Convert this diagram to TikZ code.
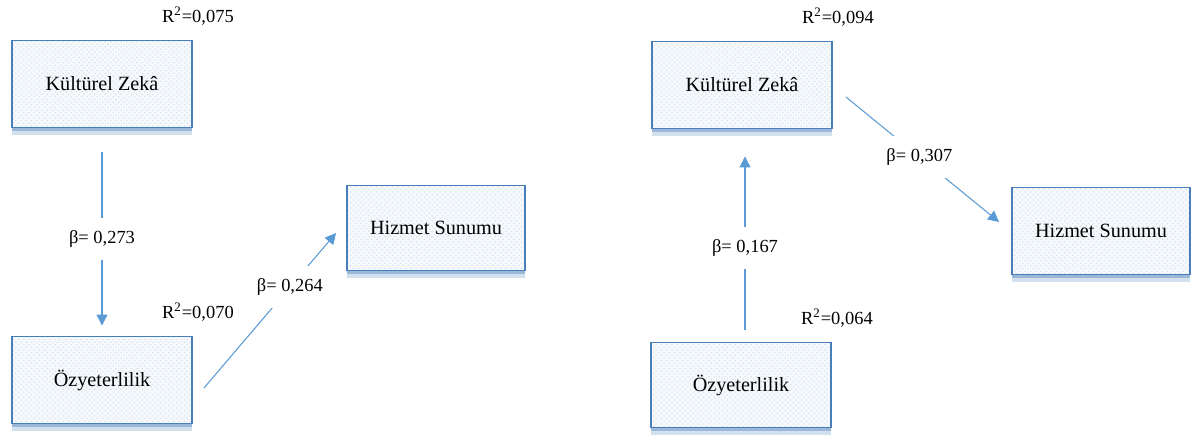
\documentclass[tikz,border=0pt]{standalone}
\usepackage{fontspec}
\setmainfont{Liberation Serif}
\usetikzlibrary{positioning,arrows.meta,calc,shadows,patterns}

\definecolor{boxline}{HTML}{4A7EBB}
\definecolor{arrline}{HTML}{5B9BD5}

\begin{document}
\begin{tikzpicture}[x=0.02cm, y=0.02cm,
  var/.style={draw=boxline, line width=1.1pt,
              minimum width=3.6cm, minimum height=1.74cm,
              font=\fontsize{11.5}{13}\selectfont,
              drop shadow={shadow xshift=0pt, shadow yshift=-4pt,
                           fill=boxline!70, opacity=0.35},
              drop shadow={shadow xshift=0pt, shadow yshift=-2pt,
                           fill=boxline, opacity=0.4},
              preaction={fill=boxline!5},
              preaction={pattern=crosshatch dots, pattern color=boxline!22}},
  rsq/.style={font=\fontsize{10.5}{12}\selectfont, inner sep=1pt},
  beta/.style={fill=white, font=\fontsize{10.5}{12}\selectfont,
               inner xsep=2pt, inner ysep=7pt},
  arr/.style={-{Triangle[length=2.2mm, width=2.2mm]}, draw=arrline,
              line width=0.6pt}]
\useasboundingbox (0,0) rectangle (1192,437);

% first model
\node[var] (kzL) at (102,353) {Kültürel Zekâ};
\node[var] (ozL) at (102,57) {Özyeterlilik};
\node[var, minimum width=3.56cm, minimum height=1.7cm] (hsL) at (436,209) {Hizmet Sunumu};
\node[rsq, above=2.5mm of kzL.north east, xshift=1mm] (r2kzL) {R\textsuperscript{2}=0,075};
\node[rsq, above=2.5mm of ozL.north east, xshift=1mm] (r2ozL) {R\textsuperscript{2}=0,070};

\draw[arr] ($(kzL.south)+(0,-24)$) -- node[beta] (bkzL) {β= 0,273} ($(ozL.north)+(0,10)$);
\draw[arr] ($(ozL.east)+(11,-8)$) -- node[beta, pos=0.65] (bozL) {β= 0,264} ($(hsL.west)+(-10,-5)$);

% second model
\node[var] (kzR) at (742,352) {Kültürel Zekâ};
\node[var, minimum height=1.7cm] (ozR) at (741,52) {Özyeterlilik};
\node[var, minimum width=3.56cm] (hsR) at (1101,206) {Hizmet Sunumu};
\node[rsq, above=2.5mm of kzR.north east, xshift=1mm] (r2kzR) {R\textsuperscript{2}=0,094};
\node[rsq, above=2.5mm of ozR.north east, xshift=1mm] (r2ozR) {R\textsuperscript{2}=0,064};

\draw[arr] ($(ozR.north)+(4,12)$) -- node[beta, pos=0.47] (bozR) {β= 0,167} ($(kzR.south)+(3,-27)$);
\draw[arr] ($(kzR.east)+(13,-12)$) -- node[beta, pos=0.48] (bkzR) {β= 0,307} ($(hsR.west)+(-12,9)$);
\end{tikzpicture}
\end{document}
